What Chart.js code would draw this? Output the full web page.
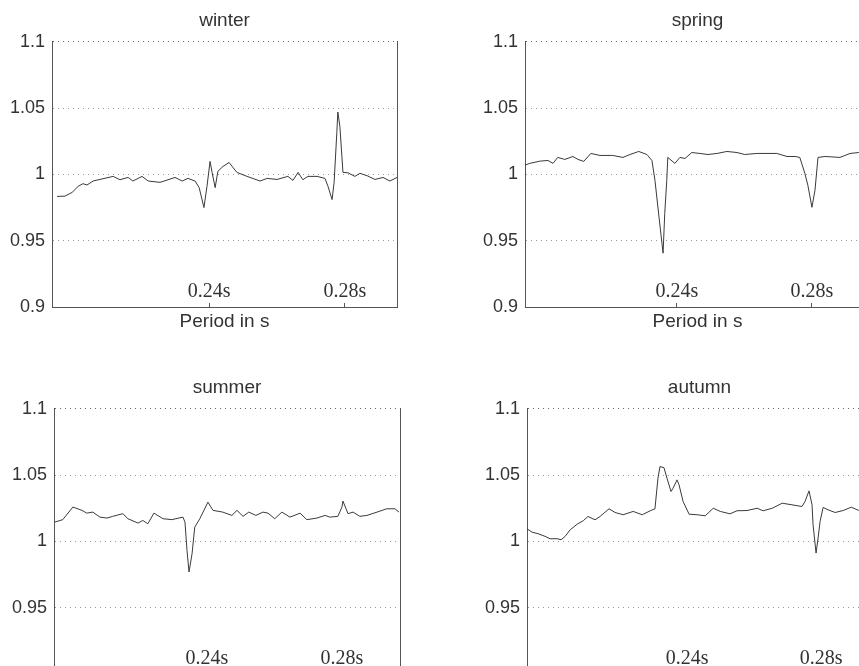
<!DOCTYPE html>
<html>
<head>
<meta charset="utf-8">
<script src="https://cdn.jsdelivr.net/npm/chart.js@4.4.0/dist/chart.umd.min.js"></script>
<style>
html, body { margin: 0; padding: 0; background: #fff; overflow: hidden; width: 859px; height: 666px; }
canvas { position: absolute; }
</style>
</head>
<body>
<canvas id="winterChart" width="399" height="333" style="left:0;top:0"></canvas>
<canvas id="springChart" width="399" height="333" style="left:473px;top:0"></canvas>
<canvas id="summerChart" width="400" height="333" style="left:2px;top:367px"></canvas>
<canvas id="autumnChart" width="399" height="333" style="left:475px;top:367px"></canvas>
<script>
// axis ticks
const yTicks = [0.9, 0.95, 1, 1.05, 1.1]
const yTickLabels = ['0.9', '0.95', '1', '1.05', '1.1']
const xTicks = [0.24, 0.28]
const xTickLabels = ['0.24s', '0.28s']

// winter
const winterPeriods = [0.1953, 0.1976, 0.1997, 0.2015, 0.2029, 0.2041, 0.2059, 0.2079, 0.2118, 0.2138, 0.2162, 0.2176, 0.2203, 0.2221, 0.2256, 0.2300, 0.2321, 0.2338, 0.2359, 0.2371, 0.2385, 0.2394, 0.2403, 0.2409, 0.2418, 0.2426, 0.2441, 0.2459, 0.2471, 0.2482, 0.2512, 0.2550, 0.2571, 0.2600, 0.2632, 0.2647, 0.2662, 0.2676, 0.2691, 0.2718, 0.2741, 0.2750, 0.2762, 0.2768, 0.2776, 0.2779, 0.2785, 0.2794, 0.2809, 0.2829, 0.2844, 0.2865, 0.2888, 0.2912, 0.2932, 0.2953]
const winterValues = [0.9834, 0.9836, 0.9864, 0.991, 0.993, 0.992, 0.995, 0.9962, 0.9985, 0.996, 0.9977, 0.995, 0.9985, 0.995, 0.994, 0.9977, 0.995, 0.997, 0.995, 0.990, 0.975, 0.991, 1.0098, 1.0015, 0.990, 1.0023, 1.006, 1.009, 1.005, 1.0015, 0.9985, 0.995, 0.997, 0.9962, 0.9985, 0.9955, 1.0015, 0.996, 0.9985, 0.9985, 0.997, 0.991, 0.981, 0.994, 1.0317, 1.047, 1.036, 1.0015, 1.0012, 0.9985, 1.0008, 0.999, 0.9962, 0.9977, 0.995, 0.9977]

// spring
const springPeriods = [0.1950, 0.1964, 0.1994, 0.2018, 0.2033, 0.2047, 0.2068, 0.2092, 0.2107, 0.2124, 0.2145, 0.2172, 0.2210, 0.2240, 0.2261, 0.2287, 0.2311, 0.2326, 0.2335, 0.2347, 0.2359, 0.2364, 0.2370, 0.2373, 0.2394, 0.2409, 0.2424, 0.2444, 0.2468, 0.2492, 0.2519, 0.2548, 0.2578, 0.2601, 0.2637, 0.2696, 0.2726, 0.2750, 0.2764, 0.2779, 0.2788, 0.2800, 0.2809, 0.2818, 0.2839, 0.2883, 0.2913, 0.2939]
const springValues = [1.007, 1.0083, 1.0100, 1.0105, 1.0083, 1.0128, 1.0113, 1.0135, 1.0113, 1.0098, 1.0158, 1.0143, 1.0143, 1.0128, 1.015, 1.0173, 1.015, 1.0105, 0.9955, 0.9677, 0.9406, 0.9707, 0.9955, 1.0128, 1.0083, 1.0128, 1.012, 1.0165, 1.0158, 1.015, 1.0158, 1.0173, 1.0165, 1.015, 1.0158, 1.0158, 1.0135, 1.0135, 1.0128, 1.0008, 0.9917, 0.9752, 0.988, 1.0128, 1.0135, 1.0128, 1.0158, 1.0165]

// summer
const summerPeriods = [0.1950, 0.1973, 0.2003, 0.2030, 0.2044, 0.2062, 0.2083, 0.2104, 0.2121, 0.2151, 0.2166, 0.2196, 0.2210, 0.2225, 0.2243, 0.2270, 0.2296, 0.2329, 0.2335, 0.2341, 0.2347, 0.2356, 0.2364, 0.2379, 0.2403, 0.2418, 0.2447, 0.2474, 0.2489, 0.2507, 0.2524, 0.2545, 0.2566, 0.2581, 0.2601, 0.2622, 0.2646, 0.2676, 0.2696, 0.2726, 0.2750, 0.2764, 0.2788, 0.2800, 0.2803, 0.2818, 0.2833, 0.2853, 0.2874, 0.2904, 0.2933, 0.2957, 0.2969]
const summerValues = [1.0146, 1.0164, 1.0259, 1.0234, 1.0213, 1.0221, 1.0183, 1.0176, 1.0189, 1.0209, 1.0171, 1.0138, 1.0158, 1.0133, 1.0213, 1.0171, 1.0164, 1.0183, 1.0146, 0.9932, 0.9769, 0.9907, 1.0108, 1.0171, 1.0296, 1.0234, 1.0221, 1.0196, 1.0234, 1.0189, 1.0221, 1.0196, 1.0221, 1.0213, 1.0171, 1.0221, 1.0183, 1.0213, 1.0164, 1.0176, 1.0196, 1.0183, 1.0189, 1.0259, 1.0304, 1.0209, 1.0221, 1.0189, 1.0196, 1.0221, 1.0246, 1.0246, 1.0221]

// autumn
const autumnPeriods = [0.1922, 0.1937, 0.1955, 0.1976, 0.1991, 0.2012, 0.2024, 0.2036, 0.2051, 0.2072, 0.2090, 0.2104, 0.2125, 0.2140, 0.2167, 0.2185, 0.2209, 0.2239, 0.2266, 0.2290, 0.2304, 0.2313, 0.2319, 0.2331, 0.2340, 0.2352, 0.2358, 0.2370, 0.2376, 0.2388, 0.2406, 0.2430, 0.2454, 0.2478, 0.2499, 0.2528, 0.2549, 0.2579, 0.2609, 0.2627, 0.2654, 0.2684, 0.2713, 0.2743, 0.2752, 0.2764, 0.2773, 0.2776, 0.2785, 0.2791, 0.2797, 0.2806, 0.2821, 0.2842, 0.2866, 0.2890, 0.2913]
const autumnValues = [1.0095, 1.0070, 1.0058, 1.0038, 1.0020, 1.0020, 1.0013, 1.0038, 1.0088, 1.0130, 1.0156, 1.0188, 1.0163, 1.0188, 1.0246, 1.0218, 1.0201, 1.0226, 1.0201, 1.0231, 1.0246, 1.0476, 1.0564, 1.0556, 1.0476, 1.0376, 1.0401, 1.0464, 1.0426, 1.0301, 1.0205, 1.0201, 1.0193, 1.0250, 1.0226, 1.0208, 1.0231, 1.0233, 1.0250, 1.0231, 1.0250, 1.0288, 1.0276, 1.0263, 1.0301, 1.0381, 1.0276, 1.0126, 0.9912, 1.0025, 1.0150, 1.0256, 1.0238, 1.0218, 1.0233, 1.0258, 1.0233]

const textColor = '#333'
const axisColor = '#555'

const makeChart = (id, title, periods, values, xMin, xMax) => {
    new Chart(document.getElementById(id), {
        type: 'line',
        data: {
            datasets: [{
                data: periods.map((p, i) => ({ x: p, y: values[i] })),
                borderColor: '#3a3a3a',
                borderWidth: 1,
                pointRadius: 0,
                tension: 0
            }]
        },
        options: {
            responsive: false,
            animation: false,
            layout: { padding: { right: 2 } },
            plugins: {
                legend: { display: false },
                tooltip: { enabled: false },
                title: {
                    display: true,
                    text: title,
                    fullSize: false,
                    color: textColor,
                    font: { family: 'Liberation Sans', size: 19, weight: 'normal' },
                    padding: { top: 9, bottom: 10 }
                }
            },
            scales: {
                x: {
                    type: 'linear',
                    min: xMin,
                    max: xMax,
                    afterBuildTicks: (s) => { s.ticks = xTicks.map(v => ({ value: v })) },
                    afterFit: (s) => { s.height = 26 },
                    ticks: {
                        mirror: true,
                        padding: 3,
                        autoSkip: false,
                        maxRotation: 0,
                        color: textColor,
                        font: { family: 'Liberation Serif', size: 20 },
                        callback: (v, i) => xTickLabels[i]
                    },
                    grid: { drawOnChartArea: false, drawTicks: true, tickLength: -4, tickColor: axisColor },
                    border: { color: axisColor },
                    title: {
                        display: true,
                        text: 'Period in s',
                        color: textColor,
                        font: { family: 'Liberation Sans', size: 19 },
                        padding: { top: 0, bottom: 0 }
                    }
                },
                y: {
                    min: 0.9,
                    max: 1.1,
                    afterBuildTicks: (s) => { s.ticks = yTicks.map(v => ({ value: v })) },
                    afterFit: (s) => { s.width = 52 },
                    ticks: {
                        padding: 7,
                        color: textColor,
                        font: { family: 'Liberation Sans', size: 18 },
                        callback: (v, i) => yTickLabels[i]
                    },
                    grid: {
                        drawTicks: false,
                        color: (c) => c.index === yTicks.length - 1 ? '#666' : '#999'
                    },
                    border: { color: axisColor, dash: [1, 4] }
                },
                y2: {
                    position: 'right',
                    min: 0,
                    max: 1,
                    afterFit: (s) => { s.width = 0 },
                    ticks: { display: false },
                    grid: { display: false, drawTicks: false },
                    border: { color: axisColor }
                }
            }
        }
    })
}

makeChart('winterChart', 'winter', winterPeriods, winterValues, 0.1938, 0.2953)
makeChart('springChart', 'spring', springPeriods, springValues, 0.1950, 0.2972)
makeChart('summerChart', 'summer', summerPeriods, summerValues, 0.1947, 0.2972)
makeChart('autumnChart', 'autumn', autumnPeriods, autumnValues, 0.1922, 0.2952)
</script>
</body>
</html>
